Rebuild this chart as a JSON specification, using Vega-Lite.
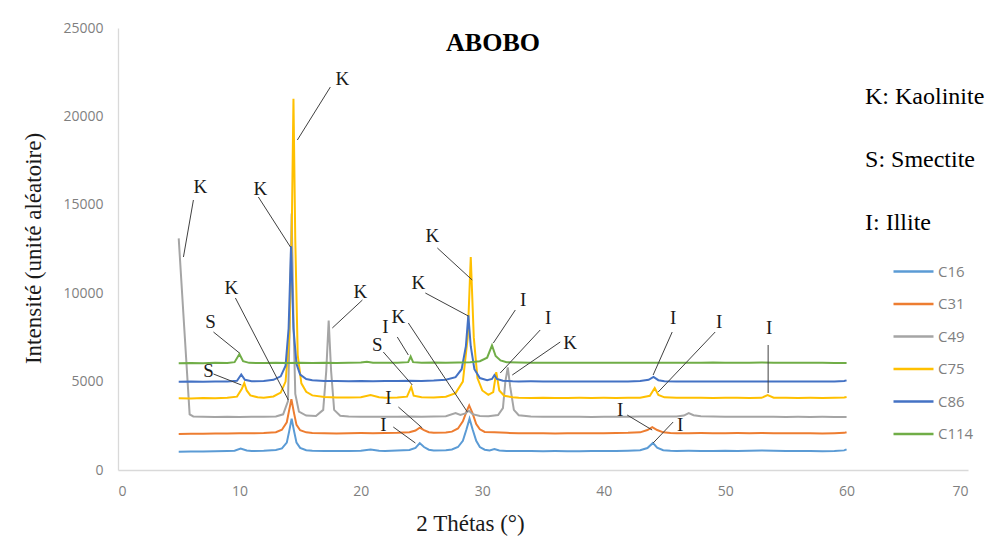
{
  "$schema": "https://vega.github.io/schema/vega-lite/v6.json",
  "width": 850,
  "height": 442,
  "autosize": {"type": "none"},
  "padding": {"left": 118, "top": 28, "right": 20, "bottom": 73},
  "background": "white",
  "title": {"text": "ABOBO", "font": "Liberation Serif", "fontSize": 26, "fontWeight": "bold", "color": "#000000", "anchor": "middle", "dx": -50, "offset": -35},
  "config": {
    "view": {"stroke": null},
    "axis": {"grid": false, "ticks": false, "domainColor": "#d9d9d9", "domainWidth": 1.3, "labelFont": "Open Sans", "labelFontSize": 14, "labelColor": "#7f7f7f", "titleFont": "Liberation Serif", "titleFontSize": 23, "titleFontWeight": "normal", "titleColor": "#1a1a1a"},
    "legend": {"labelFont": "Open Sans", "labelFontSize": 15, "labelColor": "#7f7f7f"}
  },
  "datasets": {
    "series": [
      {"s":"C16","x":5,"y":1030},{"s":"C16","x":6,"y":1045},{"s":"C16","x":7,"y":1040},{"s":"C16","x":8,"y":1065},{"s":"C16","x":9,"y":1075},{"s":"C16","x":9.6,"y":1090},{"s":"C16","x":10.1,"y":1210},{"s":"C16","x":10.6,"y":1100},{"s":"C16","x":11,"y":1075},{"s":"C16","x":12,"y":1090},{"s":"C16","x":13,"y":1130},{"s":"C16","x":13.5,"y":1220},{"s":"C16","x":13.9,"y":1550},{"s":"C16","x":14.1,"y":2200},{"s":"C16","x":14.3,"y":2900},{"s":"C16","x":14.5,"y":2200},{"s":"C16","x":14.7,"y":1550},{"s":"C16","x":15,"y":1250},{"s":"C16","x":15.5,"y":1120},{"s":"C16","x":16,"y":1090},{"s":"C16","x":17,"y":1070},{"s":"C16","x":18,"y":1070},{"s":"C16","x":19,"y":1075},{"s":"C16","x":20,"y":1090},{"s":"C16","x":20.8,"y":1160},{"s":"C16","x":21.5,"y":1090},{"s":"C16","x":22,"y":1080},{"s":"C16","x":23,"y":1100},{"s":"C16","x":24,"y":1130},{"s":"C16","x":24.5,"y":1250},{"s":"C16","x":24.85,"y":1520},{"s":"C16","x":25.2,"y":1300},{"s":"C16","x":25.6,"y":1150},{"s":"C16","x":26,"y":1110},{"s":"C16","x":27,"y":1120},{"s":"C16","x":27.5,"y":1160},{"s":"C16","x":28,"y":1300},{"s":"C16","x":28.4,"y":1650},{"s":"C16","x":28.7,"y":2300},{"s":"C16","x":28.95,"y":2900},{"s":"C16","x":29.2,"y":2300},{"s":"C16","x":29.5,"y":1650},{"s":"C16","x":29.8,"y":1300},{"s":"C16","x":30.2,"y":1150},{"s":"C16","x":30.6,"y":1110},{"s":"C16","x":31,"y":1180},{"s":"C16","x":31.4,"y":1100},{"s":"C16","x":32,"y":1080},{"s":"C16","x":33,"y":1075},{"s":"C16","x":34,"y":1080},{"s":"C16","x":35,"y":1065},{"s":"C16","x":36,"y":1070},{"s":"C16","x":37,"y":1065},{"s":"C16","x":38,"y":1060},{"s":"C16","x":39,"y":1080},{"s":"C16","x":40,"y":1075},{"s":"C16","x":41,"y":1070},{"s":"C16","x":42,"y":1090},{"s":"C16","x":43,"y":1120},{"s":"C16","x":43.6,"y":1240},{"s":"C16","x":44.05,"y":1530},{"s":"C16","x":44.4,"y":1260},{"s":"C16","x":44.9,"y":1120},{"s":"C16","x":45.5,"y":1090},{"s":"C16","x":46,"y":1080},{"s":"C16","x":47,"y":1085},{"s":"C16","x":48,"y":1075},{"s":"C16","x":49,"y":1080},{"s":"C16","x":50,"y":1095},{"s":"C16","x":51,"y":1080},{"s":"C16","x":52,"y":1085},{"s":"C16","x":53,"y":1100},{"s":"C16","x":54,"y":1085},{"s":"C16","x":55,"y":1075},{"s":"C16","x":56,"y":1070},{"s":"C16","x":57,"y":1080},{"s":"C16","x":58,"y":1065},{"s":"C16","x":59,"y":1070},{"s":"C16","x":59.8,"y":1110},{"s":"C16","x":60,"y":1170},
      {"s":"C31","x":5,"y":2040},{"s":"C31","x":6,"y":2055},{"s":"C31","x":7,"y":2050},{"s":"C31","x":8,"y":2070},{"s":"C31","x":9,"y":2065},{"s":"C31","x":10,"y":2080},{"s":"C31","x":11,"y":2075},{"s":"C31","x":12,"y":2090},{"s":"C31","x":13,"y":2140},{"s":"C31","x":13.5,"y":2280},{"s":"C31","x":13.9,"y":2700},{"s":"C31","x":14.1,"y":3400},{"s":"C31","x":14.28,"y":4000},{"s":"C31","x":14.5,"y":3200},{"s":"C31","x":14.7,"y":2550},{"s":"C31","x":15,"y":2250},{"s":"C31","x":15.5,"y":2130},{"s":"C31","x":16,"y":2090},{"s":"C31","x":17,"y":2075},{"s":"C31","x":18,"y":2065},{"s":"C31","x":19,"y":2080},{"s":"C31","x":20,"y":2090},{"s":"C31","x":21,"y":2085},{"s":"C31","x":22,"y":2090},{"s":"C31","x":23,"y":2100},{"s":"C31","x":24,"y":2140},{"s":"C31","x":24.5,"y":2230},{"s":"C31","x":24.85,"y":2390},{"s":"C31","x":25.2,"y":2250},{"s":"C31","x":25.6,"y":2140},{"s":"C31","x":26,"y":2110},{"s":"C31","x":27,"y":2120},{"s":"C31","x":27.5,"y":2170},{"s":"C31","x":28,"y":2350},{"s":"C31","x":28.4,"y":2750},{"s":"C31","x":28.7,"y":3300},{"s":"C31","x":28.92,"y":3650},{"s":"C31","x":29.2,"y":3200},{"s":"C31","x":29.5,"y":2600},{"s":"C31","x":29.8,"y":2300},{"s":"C31","x":30.2,"y":2150},{"s":"C31","x":31,"y":2130},{"s":"C31","x":32,"y":2100},{"s":"C31","x":33,"y":2080},{"s":"C31","x":34,"y":2075},{"s":"C31","x":35,"y":2080},{"s":"C31","x":36,"y":2070},{"s":"C31","x":37,"y":2075},{"s":"C31","x":38,"y":2080},{"s":"C31","x":39,"y":2085},{"s":"C31","x":40,"y":2080},{"s":"C31","x":41,"y":2090},{"s":"C31","x":42,"y":2100},{"s":"C31","x":43,"y":2130},{"s":"C31","x":43.6,"y":2260},{"s":"C31","x":44,"y":2420},{"s":"C31","x":44.4,"y":2260},{"s":"C31","x":44.9,"y":2130},{"s":"C31","x":45.5,"y":2090},{"s":"C31","x":46,"y":2085},{"s":"C31","x":47,"y":2080},{"s":"C31","x":48,"y":2090},{"s":"C31","x":49,"y":2085},{"s":"C31","x":50,"y":2080},{"s":"C31","x":51,"y":2090},{"s":"C31","x":52,"y":2085},{"s":"C31","x":53,"y":2095},{"s":"C31","x":54,"y":2080},{"s":"C31","x":55,"y":2085},{"s":"C31","x":56,"y":2075},{"s":"C31","x":57,"y":2080},{"s":"C31","x":58,"y":2070},{"s":"C31","x":59,"y":2080},{"s":"C31","x":59.8,"y":2100},{"s":"C31","x":60,"y":2140},
      {"s":"C49","x":5,"y":13100},{"s":"C49","x":5.45,"y":8100},{"s":"C49","x":5.9,"y":3150},{"s":"C49","x":6.2,"y":3030},{"s":"C49","x":7,"y":3010},{"s":"C49","x":8,"y":3000},{"s":"C49","x":9,"y":3010},{"s":"C49","x":10,"y":3000},{"s":"C49","x":11,"y":3010},{"s":"C49","x":12,"y":3005},{"s":"C49","x":13,"y":3030},{"s":"C49","x":13.6,"y":3150},{"s":"C49","x":14,"y":3900},{"s":"C49","x":14.15,"y":8500},{"s":"C49","x":14.3,"y":14500},{"s":"C49","x":14.45,"y":8500},{"s":"C49","x":14.6,"y":4300},{"s":"C49","x":14.9,"y":3300},{"s":"C49","x":15.5,"y":3080},{"s":"C49","x":16.3,"y":3060},{"s":"C49","x":16.9,"y":3400},{"s":"C49","x":17.15,"y":5600},{"s":"C49","x":17.35,"y":8450},{"s":"C49","x":17.55,"y":5600},{"s":"C49","x":17.8,"y":3400},{"s":"C49","x":18.3,"y":3070},{"s":"C49","x":19,"y":3030},{"s":"C49","x":20,"y":3010},{"s":"C49","x":21,"y":3015},{"s":"C49","x":22,"y":3005},{"s":"C49","x":23,"y":3010},{"s":"C49","x":24,"y":3020},{"s":"C49","x":25,"y":3010},{"s":"C49","x":26,"y":3020},{"s":"C49","x":27,"y":3040},{"s":"C49","x":27.8,"y":3220},{"s":"C49","x":28.2,"y":3110},{"s":"C49","x":28.6,"y":3200},{"s":"C49","x":28.9,"y":3350},{"s":"C49","x":29.2,"y":3160},{"s":"C49","x":29.8,"y":3060},{"s":"C49","x":30.5,"y":3040},{"s":"C49","x":31.3,"y":3110},{"s":"C49","x":31.7,"y":3500},{"s":"C49","x":31.9,"y":5000},{"s":"C49","x":32.1,"y":5800},{"s":"C49","x":32.3,"y":4700},{"s":"C49","x":32.6,"y":3400},{"s":"C49","x":33,"y":3100},{"s":"C49","x":34,"y":3030},{"s":"C49","x":35,"y":3010},{"s":"C49","x":36,"y":3015},{"s":"C49","x":37,"y":3005},{"s":"C49","x":38,"y":3010},{"s":"C49","x":39,"y":3000},{"s":"C49","x":40,"y":3010},{"s":"C49","x":41,"y":3005},{"s":"C49","x":42,"y":3010},{"s":"C49","x":43,"y":3020},{"s":"C49","x":44,"y":3030},{"s":"C49","x":45,"y":3020},{"s":"C49","x":46,"y":3030},{"s":"C49","x":46.6,"y":3080},{"s":"C49","x":47,"y":3220},{"s":"C49","x":47.4,"y":3100},{"s":"C49","x":48,"y":3040},{"s":"C49","x":49,"y":3020},{"s":"C49","x":50,"y":3010},{"s":"C49","x":51,"y":3015},{"s":"C49","x":52,"y":3010},{"s":"C49","x":53,"y":3005},{"s":"C49","x":54,"y":3010},{"s":"C49","x":55,"y":3000},{"s":"C49","x":56,"y":3005},{"s":"C49","x":57,"y":3000},{"s":"C49","x":58,"y":3005},{"s":"C49","x":59,"y":3000},{"s":"C49","x":60,"y":3000},
      {"s":"C75","x":5,"y":4060},{"s":"C75","x":6,"y":4050},{"s":"C75","x":7,"y":4070},{"s":"C75","x":8,"y":4060},{"s":"C75","x":9,"y":4080},{"s":"C75","x":9.8,"y":4150},{"s":"C75","x":10.2,"y":4600},{"s":"C75","x":10.4,"y":4920},{"s":"C75","x":10.6,"y":4500},{"s":"C75","x":10.9,"y":4220},{"s":"C75","x":11.5,"y":4110},{"s":"C75","x":12,"y":4090},{"s":"C75","x":12.8,"y":4160},{"s":"C75","x":13.4,"y":4380},{"s":"C75","x":13.8,"y":5000},{"s":"C75","x":14.1,"y":7500},{"s":"C75","x":14.3,"y":13000},{"s":"C75","x":14.45,"y":21000},{"s":"C75","x":14.6,"y":13000},{"s":"C75","x":14.8,"y":6500},{"s":"C75","x":15.1,"y":4900},{"s":"C75","x":15.5,"y":4420},{"s":"C75","x":16,"y":4220},{"s":"C75","x":17,"y":4130},{"s":"C75","x":18,"y":4100},{"s":"C75","x":19,"y":4100},{"s":"C75","x":20,"y":4120},{"s":"C75","x":20.8,"y":4240},{"s":"C75","x":21.5,"y":4120},{"s":"C75","x":22,"y":4090},{"s":"C75","x":23,"y":4100},{"s":"C75","x":23.8,"y":4150},{"s":"C75","x":24.15,"y":4700},{"s":"C75","x":24.35,"y":4200},{"s":"C75","x":25,"y":4110},{"s":"C75","x":26,"y":4100},{"s":"C75","x":27,"y":4140},{"s":"C75","x":27.8,"y":4350},{"s":"C75","x":28.4,"y":5000},{"s":"C75","x":28.8,"y":7500},{"s":"C75","x":29.05,"y":12050},{"s":"C75","x":29.3,"y":7500},{"s":"C75","x":29.6,"y":5200},{"s":"C75","x":30,"y":4500},{"s":"C75","x":30.5,"y":4250},{"s":"C75","x":30.9,"y":4400},{"s":"C75","x":31.15,"y":5540},{"s":"C75","x":31.4,"y":4500},{"s":"C75","x":31.8,"y":4200},{"s":"C75","x":32.5,"y":4110},{"s":"C75","x":33,"y":4080},{"s":"C75","x":34,"y":4070},{"s":"C75","x":35,"y":4080},{"s":"C75","x":36,"y":4070},{"s":"C75","x":37,"y":4075},{"s":"C75","x":38,"y":4080},{"s":"C75","x":39,"y":4070},{"s":"C75","x":40,"y":4080},{"s":"C75","x":41,"y":4075},{"s":"C75","x":42,"y":4080},{"s":"C75","x":43,"y":4090},{"s":"C75","x":43.8,"y":4200},{"s":"C75","x":44.2,"y":4640},{"s":"C75","x":44.5,"y":4250},{"s":"C75","x":45,"y":4110},{"s":"C75","x":46,"y":4080},{"s":"C75","x":47,"y":4090},{"s":"C75","x":48,"y":4080},{"s":"C75","x":49,"y":4075},{"s":"C75","x":50,"y":4085},{"s":"C75","x":51,"y":4080},{"s":"C75","x":52,"y":4075},{"s":"C75","x":53,"y":4080},{"s":"C75","x":53.5,"y":4240},{"s":"C75","x":54,"y":4085},{"s":"C75","x":55,"y":4080},{"s":"C75","x":56,"y":4075},{"s":"C75","x":57,"y":4080},{"s":"C75","x":58,"y":4070},{"s":"C75","x":59,"y":4080},{"s":"C75","x":59.8,"y":4100},{"s":"C75","x":60,"y":4130},
      {"s":"C86","x":5,"y":4990},{"s":"C86","x":6,"y":5000},{"s":"C86","x":7,"y":4990},{"s":"C86","x":8,"y":5010},{"s":"C86","x":9,"y":5000},{"s":"C86","x":9.8,"y":5050},{"s":"C86","x":10.15,"y":5400},{"s":"C86","x":10.45,"y":5100},{"s":"C86","x":11,"y":5020},{"s":"C86","x":12,"y":5030},{"s":"C86","x":12.8,"y":5100},{"s":"C86","x":13.4,"y":5300},{"s":"C86","x":13.8,"y":5900},{"s":"C86","x":14.05,"y":8000},{"s":"C86","x":14.25,"y":12650},{"s":"C86","x":14.45,"y":8000},{"s":"C86","x":14.7,"y":6000},{"s":"C86","x":15,"y":5400},{"s":"C86","x":15.5,"y":5150},{"s":"C86","x":16,"y":5080},{"s":"C86","x":17,"y":5040},{"s":"C86","x":18,"y":5030},{"s":"C86","x":19,"y":5020},{"s":"C86","x":20,"y":5030},{"s":"C86","x":21,"y":5020},{"s":"C86","x":22,"y":5040},{"s":"C86","x":23,"y":5030},{"s":"C86","x":24,"y":5050},{"s":"C86","x":25,"y":5040},{"s":"C86","x":26,"y":5060},{"s":"C86","x":27,"y":5100},{"s":"C86","x":27.8,"y":5250},{"s":"C86","x":28.3,"y":5700},{"s":"C86","x":28.65,"y":7000},{"s":"C86","x":28.85,"y":8750},{"s":"C86","x":29.05,"y":7000},{"s":"C86","x":29.35,"y":5700},{"s":"C86","x":29.8,"y":5200},{"s":"C86","x":30.4,"y":5080},{"s":"C86","x":30.8,"y":5150},{"s":"C86","x":31,"y":5370},{"s":"C86","x":31.2,"y":5150},{"s":"C86","x":31.7,"y":5050},{"s":"C86","x":32.5,"y":5020},{"s":"C86","x":33,"y":5010},{"s":"C86","x":34,"y":5015},{"s":"C86","x":35,"y":5005},{"s":"C86","x":36,"y":5010},{"s":"C86","x":37,"y":5000},{"s":"C86","x":38,"y":5010},{"s":"C86","x":39,"y":5005},{"s":"C86","x":40,"y":5010},{"s":"C86","x":41,"y":5000},{"s":"C86","x":42,"y":5010},{"s":"C86","x":43,"y":5030},{"s":"C86","x":43.7,"y":5100},{"s":"C86","x":44.1,"y":5260},{"s":"C86","x":44.5,"y":5080},{"s":"C86","x":45,"y":5020},{"s":"C86","x":46,"y":5010},{"s":"C86","x":47,"y":5005},{"s":"C86","x":48,"y":5010},{"s":"C86","x":49,"y":5000},{"s":"C86","x":50,"y":5010},{"s":"C86","x":51,"y":5005},{"s":"C86","x":52,"y":5010},{"s":"C86","x":53,"y":5000},{"s":"C86","x":54,"y":5010},{"s":"C86","x":55,"y":5005},{"s":"C86","x":56,"y":5000},{"s":"C86","x":57,"y":5010},{"s":"C86","x":58,"y":5005},{"s":"C86","x":59,"y":5010},{"s":"C86","x":59.8,"y":5030},{"s":"C86","x":60,"y":5070},
      {"s":"C114","x":5,"y":6040},{"s":"C114","x":6,"y":6050},{"s":"C114","x":7,"y":6040},{"s":"C114","x":8,"y":6060},{"s":"C114","x":9,"y":6050},{"s":"C114","x":9.6,"y":6100},{"s":"C114","x":10,"y":6560},{"s":"C114","x":10.3,"y":6150},{"s":"C114","x":10.8,"y":6060},{"s":"C114","x":12,"y":6050},{"s":"C114","x":13,"y":6060},{"s":"C114","x":14,"y":6050},{"s":"C114","x":15,"y":6060},{"s":"C114","x":16,"y":6050},{"s":"C114","x":17,"y":6060},{"s":"C114","x":18,"y":6050},{"s":"C114","x":19,"y":6070},{"s":"C114","x":20,"y":6080},{"s":"C114","x":20.5,"y":6120},{"s":"C114","x":21,"y":6070},{"s":"C114","x":22,"y":6060},{"s":"C114","x":23,"y":6070},{"s":"C114","x":23.9,"y":6100},{"s":"C114","x":24.1,"y":6420},{"s":"C114","x":24.3,"y":6100},{"s":"C114","x":25,"y":6070},{"s":"C114","x":26,"y":6080},{"s":"C114","x":27,"y":6070},{"s":"C114","x":28,"y":6080},{"s":"C114","x":29,"y":6090},{"s":"C114","x":29.8,"y":6150},{"s":"C114","x":30.4,"y":6350},{"s":"C114","x":30.8,"y":7050},{"s":"C114","x":31.1,"y":6450},{"s":"C114","x":31.5,"y":6200},{"s":"C114","x":32,"y":6100},{"s":"C114","x":33,"y":6080},{"s":"C114","x":34,"y":6070},{"s":"C114","x":35,"y":6060},{"s":"C114","x":36,"y":6070},{"s":"C114","x":37,"y":6060},{"s":"C114","x":38,"y":6065},{"s":"C114","x":39,"y":6060},{"s":"C114","x":40,"y":6070},{"s":"C114","x":41,"y":6060},{"s":"C114","x":42,"y":6065},{"s":"C114","x":43,"y":6060},{"s":"C114","x":44,"y":6070},{"s":"C114","x":45,"y":6060},{"s":"C114","x":46,"y":6065},{"s":"C114","x":47,"y":6060},{"s":"C114","x":48,"y":6070},{"s":"C114","x":49,"y":6080},{"s":"C114","x":50,"y":6070},{"s":"C114","x":51,"y":6065},{"s":"C114","x":52,"y":6070},{"s":"C114","x":53,"y":6075},{"s":"C114","x":54,"y":6070},{"s":"C114","x":55,"y":6065},{"s":"C114","x":56,"y":6060},{"s":"C114","x":57,"y":6065},{"s":"C114","x":58,"y":6060},{"s":"C114","x":59,"y":6055},{"s":"C114","x":60,"y":6050}
    ],
    "leaders": [
      {"x":6.21,"y":15271,"x2":5.39,"y2":12048},
      {"x":11.56,"y":15441,"x2":14.2,"y2":12613},
      {"x":17.49,"y":21663,"x2":14.77,"y2":18665},
      {"x":7.86,"y":7805,"x2":10.0,"y2":6618},
      {"x":9.67,"y":9729,"x2":14.03,"y2":3959},
      {"x":7.86,"y":5430,"x2":10.16,"y2":4808},
      {"x":20.13,"y":9615,"x2":17.65,"y2":8032},
      {"x":26.3,"y":12557,"x2":29.17,"y2":10747},
      {"x":25.31,"y":10011,"x2":28.85,"y2":8710},
      {"x":23.0,"y":7523,"x2":23.91,"y2":6505},
      {"x":23.91,"y":8314,"x2":28.77,"y2":3281},
      {"x":21.85,"y":6674,"x2":24.24,"y2":4808},
      {"x":23.09,"y":3563,"x2":25.06,"y2":2376},
      {"x":22.67,"y":2432,"x2":24.49,"y2":1527},
      {"x":32.72,"y":9050,"x2":30.91,"y2":7183},
      {"x":34.77,"y":7919,"x2":31.48,"y2":5486},
      {"x":36.42,"y":7240,"x2":32.47,"y2":5373},
      {"x":41.93,"y":3111,"x2":43.99,"y2":2262},
      {"x":45.64,"y":7805,"x2":44.07,"y2":5373},
      {"x":49.18,"y":7805,"x2":44.49,"y2":4412},
      {"x":53.54,"y":7070,"x2":53.54,"y2":4355},
      {"x":45.72,"y":2715,"x2":44.07,"y2":1527}
    ],
    "letters": [
      {"t":"K","x":6.79,"y":16007},{"t":"K","x":11.73,"y":15894},{"t":"K","x":18.48,"y":22115},
      {"t":"S","x":7.61,"y":8371},{"t":"K","x":9.34,"y":10294},{"t":"S","x":7.45,"y":5600},
      {"t":"K","x":19.96,"y":10068},{"t":"K","x":25.88,"y":13235},{"t":"K","x":24.73,"y":10577},
      {"t":"I","x":22.02,"y":8088},{"t":"K","x":23.09,"y":8654},{"t":"S","x":21.36,"y":7070},
      {"t":"I","x":22.26,"y":4072},{"t":"I","x":21.85,"y":2545},{"t":"I","x":33.37,"y":9615},
      {"t":"I","x":35.43,"y":8597},{"t":"K","x":37.24,"y":7183},{"t":"I","x":41.36,"y":3394},
      {"t":"I","x":45.72,"y":8597},{"t":"I","x":49.51,"y":8371},{"t":"I","x":53.62,"y":8032},
      {"t":"I","x":46.3,"y":2545}
    ],
    "key": [
      {"t":"K: Kaolinite","x":61.52,"y":21097},
      {"t":"S: Smectite","x":61.52,"y":17534},
      {"t":"I: Illite","x":61.52,"y":13971}
    ]
  },
  "layer": [
    {
      "data": {"name": "series"},
      "mark": {"type": "line", "strokeWidth": 2},
      "encoding": {
        "x": {"field": "x", "type": "quantitative", "scale": {"domain": [0, 70], "nice": false, "zero": false},
              "axis": {"values": [0,10,20,30,40,50,60,70], "labelPadding": 14, "title": "2 Thétas (°)", "titleX": 352, "titleY": 53, "titleBaseline": "middle", "titleAlign": "center"}},
        "y": {"field": "y", "type": "quantitative", "scale": {"domain": [0, 25000], "nice": false},
              "axis": {"values": [0,5000,10000,15000,20000,25000], "format": "d", "labelPadding": 15, "title": "Intensité (unité aléatoire)", "titleX": -85, "titleY": 220, "titleAngle": 270, "titleBaseline": "middle", "titleAlign": "center"}},
        "color": {"field": "s", "type": "nominal",
                  "scale": {"domain": ["C16","C31","C49","C75","C86","C114"], "range": ["#5B9BD5","#ED7D31","#A5A5A5","#FFC000","#4472C4","#70AD47"]},
                  "legend": {"title": null, "orient": "none", "legendX": 774, "legendY": 222, "symbolType": "stroke", "symbolSize": 1600, "symbolStrokeWidth": 2.5, "rowPadding": 2.5, "labelOffset": 3, "padding": 0}}
      }
    },
    {
      "data": {"name": "leaders"},
      "mark": {"type": "rule", "color": "#404040", "strokeWidth": 1},
      "encoding": {
        "x": {"field": "x", "type": "quantitative"},
        "y": {"field": "y", "type": "quantitative"},
        "x2": {"field": "x2"},
        "y2": {"field": "y2"}
      }
    },
    {
      "data": {"name": "letters"},
      "mark": {"type": "text", "font": "Liberation Serif", "fontSize": 19, "color": "#1a1a1a", "align": "center", "baseline": "middle"},
      "encoding": {
        "x": {"field": "x", "type": "quantitative"},
        "y": {"field": "y", "type": "quantitative"},
        "text": {"field": "t"}
      }
    },
    {
      "data": {"name": "key"},
      "mark": {"type": "text", "font": "Liberation Serif", "fontSize": 24, "color": "#000000", "align": "left", "baseline": "middle"},
      "encoding": {
        "x": {"field": "x", "type": "quantitative"},
        "y": {"field": "y", "type": "quantitative"},
        "text": {"field": "t"}
      }
    }
  ]
}
